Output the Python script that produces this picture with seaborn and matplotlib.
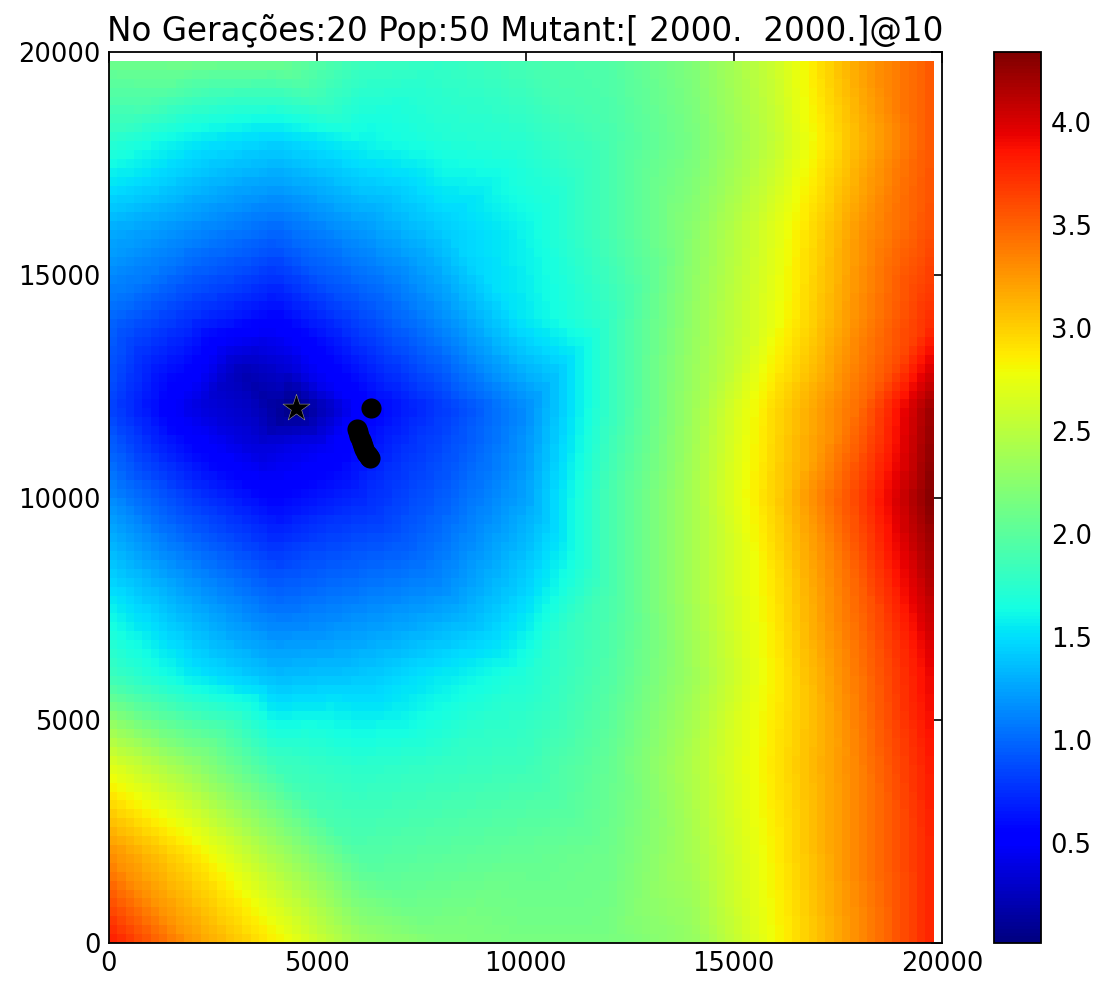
import numpy as np
import pandas as pd
import matplotlib
matplotlib.use("Agg")
import matplotlib.pyplot as plt
import matplotlib.tri as mtri
import seaborn as sns

# ---------------- data ----------------
grid_x = [0, 2000, 4000, 6000, 8000, 10000, 12000, 14000, 16000, 18000, 19800]
grid_y = [0, 2000, 4000, 6000, 8000, 10000, 12000, 14000, 16000, 18000, 19800]
# one row per grid_y value (bottom to top), one column per grid_x value
field_y0     = [3.85, 3.25, 2.85, 2.35, 2.20, 2.15, 2.15, 2.30, 2.80, 3.30, 3.80]
field_y2000  = [3.30, 2.90, 2.40, 1.95, 2.00, 2.05, 2.10, 2.40, 2.85, 3.35, 3.80]
field_y4000  = [2.70, 2.30, 1.85, 1.75, 1.80, 1.85, 2.05, 2.45, 2.90, 3.35, 3.85]
field_y6000  = [1.85, 1.55, 1.35, 1.40, 1.55, 1.70, 1.95, 2.35, 2.85, 3.40, 3.95]
field_y8000  = [1.50, 1.20, 0.95, 1.05, 1.15, 1.45, 1.90, 2.40, 2.90, 3.50, 4.15]
field_y10000 = [1.15, 0.80, 0.55, 0.72, 0.95, 1.25, 1.90, 2.40, 3.00, 3.65, 4.34]
field_y12000 = [0.85, 0.40, 0.15, 0.50, 0.80, 1.15, 1.80, 2.35, 2.95, 3.45, 4.25]
field_y14000 = [1.00, 0.75, 0.55, 0.85, 1.15, 1.55, 1.80, 2.30, 2.75, 3.30, 3.75]
field_y16000 = [1.30, 1.15, 1.00, 1.20, 1.42, 1.60, 1.90, 2.25, 2.70, 3.25, 3.60]
field_y18000 = [1.75, 1.55, 1.45, 1.60, 1.70, 1.75, 1.90, 2.15, 2.55, 3.10, 3.55]
field_y19800 = [2.10, 2.12, 2.10, 1.85, 1.80, 1.90, 1.95, 2.20, 2.60, 3.20, 3.55]

# extra samples around the sharp minimum near the best point
extra_x = [4500, 3200, 4200, 5200, 3500]
extra_y = [12000, 12800, 13000, 11200, 11200]
extra_v = [0.02, 0.22, 0.35, 0.45, 0.35]

best_x = [4500]
best_y = [12000]

pop_x = [6280, 5950, 5980, 6010, 6040, 6070, 6100, 6130, 6170, 6210, 6240, 6260]
pop_y = [12020, 11540, 11460, 11380, 11300, 11220, 11150, 11080, 11010, 10950, 10910, 10890]

title_text = "No Gerações:20 Pop:50 Mutant:[ 2000.  2000.]@10"
axis_ticks = [0, 5000, 10000, 15000, 20000]
cbar_ticks = [0.5, 1.0, 1.5, 2.0, 2.5, 3.0, 3.5, 4.0]
color_limits = (0.017, 4.34)
cell_size = 200

# ---------------- figure ----------------
sns.set_style("white")
plt.rcParams["font.family"] = ["DejaVu Sans"]
plt.rcParams["text.color"] = "black"
plt.rcParams["xtick.color"] = "black"
plt.rcParams["ytick.color"] = "black"

W, H = 1097, 981
fig = plt.figure(figsize=(W / 100, H / 100), dpi=100)
ax = fig.add_axes([109 / W, 1 - 943 / H, 833 / W, 891 / H])
cax = fig.add_axes([994 / W, 1 - 943 / H, 47 / W, 891 / H])

rows = [field_y0, field_y2000, field_y4000, field_y6000, field_y8000, field_y10000,
        field_y12000, field_y14000, field_y16000, field_y18000, field_y19800]
gx, gy = np.meshgrid(grid_x, grid_y)
px = np.concatenate([gx.ravel(), extra_x])
py = np.concatenate([gy.ravel(), extra_y])
pv = np.concatenate([np.array(rows).ravel(), extra_v])
tri = mtri.Triangulation(px, py)
interp = mtri.LinearTriInterpolator(tri, pv)

edges = np.arange(0, grid_x[-1] + 1, cell_size)
centers = (edges[:-1] + edges[1:]) / 2
cx, cy = np.meshgrid(centers, centers)
cell_vals = np.ma.filled(interp(cx, cy), np.nan)

mesh = ax.pcolormesh(edges, edges, cell_vals, cmap="jet", shading="flat",
                     vmin=color_limits[0], vmax=color_limits[1], rasterized=True)

pop_df = pd.DataFrame({"x": pop_x, "y": pop_y})
sns.scatterplot(data=pop_df, x="x", y="y", color="black", s=210, linewidth=0,
                ax=ax, legend=False, zorder=3)
best_df = pd.DataFrame({"x": best_x, "y": best_y})
sns.scatterplot(data=best_df, x="x", y="y", marker="*", color="black", s=420,
                edgecolor="#9a9a88", linewidth=0.4, ax=ax, legend=False, zorder=4)

ax.set_xlim(0, 20000)
ax.set_ylim(0, 20000)
ax.set_xticks(axis_ticks)
ax.set_yticks(axis_ticks)
ax.set_xticklabels([str(t) for t in axis_ticks])
ax.set_yticklabels([str(t) for t in axis_ticks])
ax.set_xlabel("")
ax.set_ylabel("")
ax.tick_params(direction="in", length=8, width=1.2, color="black", labelcolor="black",
               top=True, right=True, labelsize=18.5, pad=6)
for s in ax.spines.values():
    s.set_visible(True)
    s.set_color("black")
    s.set_linewidth(1.3)
ax.set_title(title_text, fontsize=23.5, pad=8, color="black")

cb = fig.colorbar(mesh, cax=cax, ticks=cbar_ticks)
cb.ax.set_yticklabels([f"{t:.1f}" for t in cbar_ticks])
cb.ax.tick_params(direction="in", length=8, width=1.2, labelsize=18.5, pad=7,
                  color="black", labelcolor="black")
cb.outline.set_edgecolor("black")
cb.outline.set_linewidth(1.3)

fig.savefig("out.png", dpi=100)
